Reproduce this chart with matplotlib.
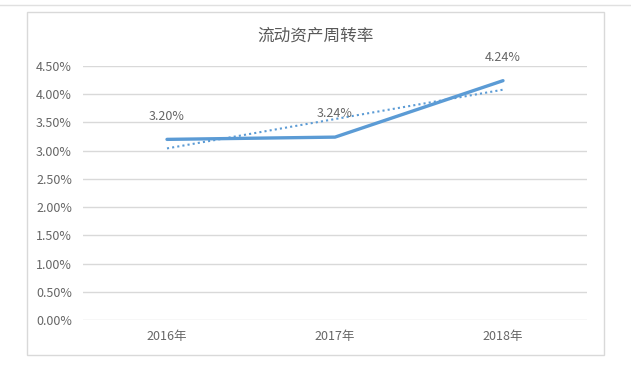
import numpy as np
import matplotlib
matplotlib.use("Agg")
import matplotlib.pyplot as plt
from matplotlib.patches import Rectangle
from matplotlib.lines import Line2D
from matplotlib.ticker import FuncFormatter

plt.rcParams['font.family'] = ['Noto Sans CJK SC', 'DejaVu Sans']

title = "流动资产周转率"
categories = ["2016年", "2017年", "2018年"]
values = [3.20, 3.24, 4.24]
yticks = [0.0, 0.5, 1.0, 1.5, 2.0, 2.5, 3.0, 3.5, 4.0, 4.5]

fig = plt.figure(figsize=(6.31, 3.65), dpi=100)
# outer chart frame
fig.patches.append(Rectangle((27/631, 1-355/365), (604-27)/631, (355-12)/365,
                             transform=fig.transFigure, fill=False,
                             edgecolor='#D9D9D9', linewidth=1.0))
fig.lines.append(Line2D([0, 1], [1-5/365, 1-5/365], transform=fig.transFigure,
                        color='#E0E0E0', linewidth=1.0))

ax = fig.add_axes([83/631, 1-320/365, (587-83)/631, (320-66)/365])
x = np.arange(len(categories))
ax.plot(x, values, color='#5B9BD5', linewidth=2.4, solid_capstyle='round', zorder=3)

# linear trend line (least squares fit of the series)
coef = np.polyfit(x, values, 1)
ax.plot(x, np.polyval(coef, x), color='#5B9BD5', linewidth=1.5, linestyle=(0, (1, 1.5)), zorder=2)

for xi, v in zip(x, values):
    ax.annotate(f"{v:.2f}%", (xi, v), xytext=(0, 12), textcoords='offset points',
                ha='center', va='bottom', fontsize=9, color='#666666')

ax.set_xlim(-0.5, len(categories) - 0.5)
ax.set_ylim(0, 4.5)
ax.set_yticks(yticks)
ax.yaxis.set_major_formatter(FuncFormatter(lambda v, p: f"{v:.2f}%"))
ax.set_xticks(x)
ax.set_xticklabels(categories)
ax.tick_params(axis='both', length=0, labelsize=9, labelcolor='#666666')
ax.tick_params(axis='x', pad=7)
ax.tick_params(axis='y', pad=8)
ax.grid(axis='y', color='#D9D9D9', linewidth=1.0)
ax.set_axisbelow(True)
for s in ax.spines.values():
    s.set_visible(False)

fig.text(316/631, 1-36/365, title, ha='center', va='center', fontsize=12, color='#595959')

fig.savefig("out.png", dpi=100)
